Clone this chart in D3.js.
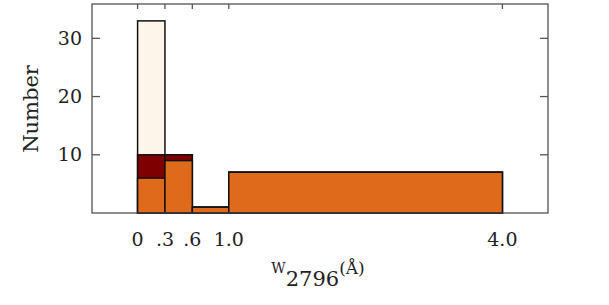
<!DOCTYPE html>
<html>
<head>
<meta charset="utf-8">
<script src="https://cdn.jsdelivr.net/npm/d3@7"></script>
<style>
body{margin:0;background:#fff;}
text{font-family:"DejaVu Serif","Liberation Serif",serif;fill:#222;}
</style>
</head>
<body>
<svg id="chart" width="609" height="305"></svg>
<script>
// bin edges in W2796 (A)
var binEdges = [0, 0.3, 0.6, 1.0, 4.0];
// three overlaid histograms, drawn back to front
var allCounts = [33, 10, 1, 7];
var midCounts = [10, 10, 1, 7];
var strongCounts = [6, 9, 1, 7];
var xTickVals = [0, 0.3, 0.6, 1.0, 4.0];
var xTickLabels = ["0", ".3", ".6", "1.0", "4.0"];
var yTickVals = [10, 20, 30];

var svg = d3.select("#chart");
var pl = 92, pr = 548, pt = 4, pb = 213;

var x = d3.scaleLinear().domain([-0.5, 4.5]).range([pl, pr]);
var y = d3.scaleLinear().domain([0, 35.9]).range([pb, pt]);

//helper: turn counts into bin rects
function bins(counts){
    return counts.map(function(c, i){return {x0: binEdges[i], x1: binEdges[i+1], n: c};});
}

var layers = [
    {data: allCounts, color: "#fdf5ea"},
    {data: midCounts, color: "#7e0000"},
    {data: strongCounts, color: "#e06a1c"}
];

layers.forEach(function(layer){
    svg.append("g").selectAll("rect")
        .data(bins(layer.data))
        .enter()
        .append("rect")
        .attr("x", function(d){return x(d.x0);})
        .attr("y", function(d){return y(d.n);})
        .attr("width", function(d){return x(d.x1) - x(d.x0);})
        .attr("height", function(d){return y(0) - y(d.n);})
        .style("fill", layer.color)
        .style("stroke", "#111")
        .style("stroke-width", 1.5);
});

//frame
svg.append("rect")
    .attr("x", pl).attr("y", pt)
    .attr("width", pr - pl).attr("height", pb - pt)
    .style("fill", "none").style("stroke", "#444").style("stroke-width", 1.2);

//inward ticks
var tk = svg.append("g").style("stroke", "#555").style("stroke-width", 1.3);
yTickVals.forEach(function(v){
    tk.append("line").attr("x1", pl).attr("x2", pl + 8).attr("y1", y(v)).attr("y2", y(v));
    tk.append("line").attr("x1", pr).attr("x2", pr - 8).attr("y1", y(v)).attr("y2", y(v));
});
xTickVals.forEach(function(v){
    tk.append("line").attr("x1", x(v)).attr("x2", x(v)).attr("y1", pt).attr("y2", pt + 5);
});

//tick labels
svg.selectAll("text.ylab")
    .data(yTickVals)
    .enter()
    .append("text")
    .attr("class", "ylab")
    .attr("x", 82)
    .attr("y", function(d){return y(d);})
    .attr("dy", "0.35em")
    .attr("text-anchor", "end")
    .style("font-size", "19px")
    .text(function(d){return d;});

svg.selectAll("text.xlab")
    .data(xTickVals)
    .enter()
    .append("text")
    .attr("class", "xlab")
    .attr("x", function(d){return x(d);})
    .attr("y", 246)
    .attr("text-anchor", "middle")
    .style("font-size", "19px")
    .text(function(d, i){return xTickLabels[i];});

//axis titles
svg.append("text")
    .attr("transform", "translate(38,109) rotate(-90)")
    .attr("text-anchor", "middle")
    .style("font-size", "21px")
    .text("Number");

var xt = svg.append("text")
    .attr("x", 318)
    .attr("y", 273)
    .attr("text-anchor", "middle");
xt.append("tspan").style("font-size", "14px").text("W");
xt.append("tspan").attr("dy", 13).style("font-size", "21px").text("2796");
xt.append("tspan").attr("dy", -12).style("font-size", "17px").text("(Å)");
</script>
</body>
</html>
